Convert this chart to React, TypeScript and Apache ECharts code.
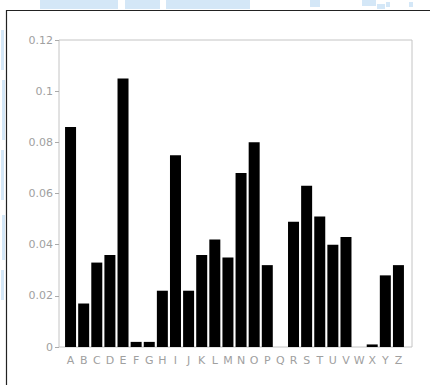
import React, { useEffect, useRef } from "react";
import * as echarts from "echarts";

const categories = ["A","B","C","D","E","F","G","H","I","J","K","L","M","N","O","P","Q","R","S","T","U","V","W","X","Y","Z"];
const values = [0.086,0.017,0.033,0.036,0.105,0.002,0.002,0.022,0.075,0.022,0.036,0.042,0.035,0.068,0.080,0.032,0,0.049,0.063,0.051,0.040,0.043,0,0.001,0.028,0.032];
const yTicks = { min: 0, max: 0.12, interval: 0.02 };

export default function App() {
  const ref = useRef<HTMLDivElement>(null);
  useEffect(() => {
    if (!ref.current) return;
    const chart = echarts.init(ref.current, null, { renderer: "svg" });
    const font = "DejaVu Sans";
    const wm = "#d4e7f7";
    const wmRects: [number, number, number, number][] = [
      [40, 0, 78, 9], [125, 0, 35, 9], [166, 0, 84, 9], [310, 0, 10, 7], [362, 0, 14, 6], [377, 4, 8, 5],
      [386, 2, 4, 5], [409, 2, 4, 5],
      [1, 30, 3, 40], [2, 80, 3, 60], [1, 150, 3, 50], [2, 215, 3, 45], [1, 270, 3, 30],
    ];
    chart.setOption({
      animation: false,
      backgroundColor: "#fff",
      graphic: [
        ...wmRects.map(([x, y, w, h]) => ({
          type: "rect", shape: { x, y, width: w, height: h }, style: { fill: wm }, silent: true,
        })),
        { type: "line", shape: { x1: 6, y1: 10.5, x2: 430, y2: 10.5 }, style: { stroke: "#222", lineWidth: 1.2 } },
        { type: "line", shape: { x1: 6.5, y1: 10, x2: 6.5, y2: 385 }, style: { stroke: "#222", lineWidth: 1.2 } },
      ],
      grid: [
        { left: 59, top: 40, width: 353, height: 307, show: true, borderColor: "#c4c4c4", borderWidth: 1, backgroundColor: "transparent" },
        { left: 64, top: 40, width: 341, height: 307 },
      ],
      xAxis: [
        { gridIndex: 0, type: "value", show: false },
        {
          gridIndex: 1, type: "category", data: categories, boundaryGap: true,
          axisLine: { show: false }, axisTick: { show: false },
          axisLabel: { color: "#a0a0a0", fontSize: 11, fontFamily: font, margin: 8, interval: 0 },
        },
      ],
      yAxis: [
        { gridIndex: 0, type: "value", show: false },
        {
          gridIndex: 1, type: "value", min: yTicks.min, max: yTicks.max, interval: yTicks.interval, offset: 5,
          axisLine: { show: false },
          axisTick: { show: true, length: 4, lineStyle: { color: "#aaa" } },
          splitLine: { show: false },
          axisLabel: { color: "#a0a0a0", fontSize: 11, fontFamily: font, margin: 6 },
        },
      ],
      series: [
        {
          type: "bar", xAxisIndex: 1, yAxisIndex: 1, data: values, barWidth: 11,
          itemStyle: { color: "#000" },
        },
      ],
    });
    return () => chart.dispose();
  }, []);
  return <div ref={ref} style={{ position: "fixed", left: 0, top: 0, width: 430, height: 385 }} />;
}
